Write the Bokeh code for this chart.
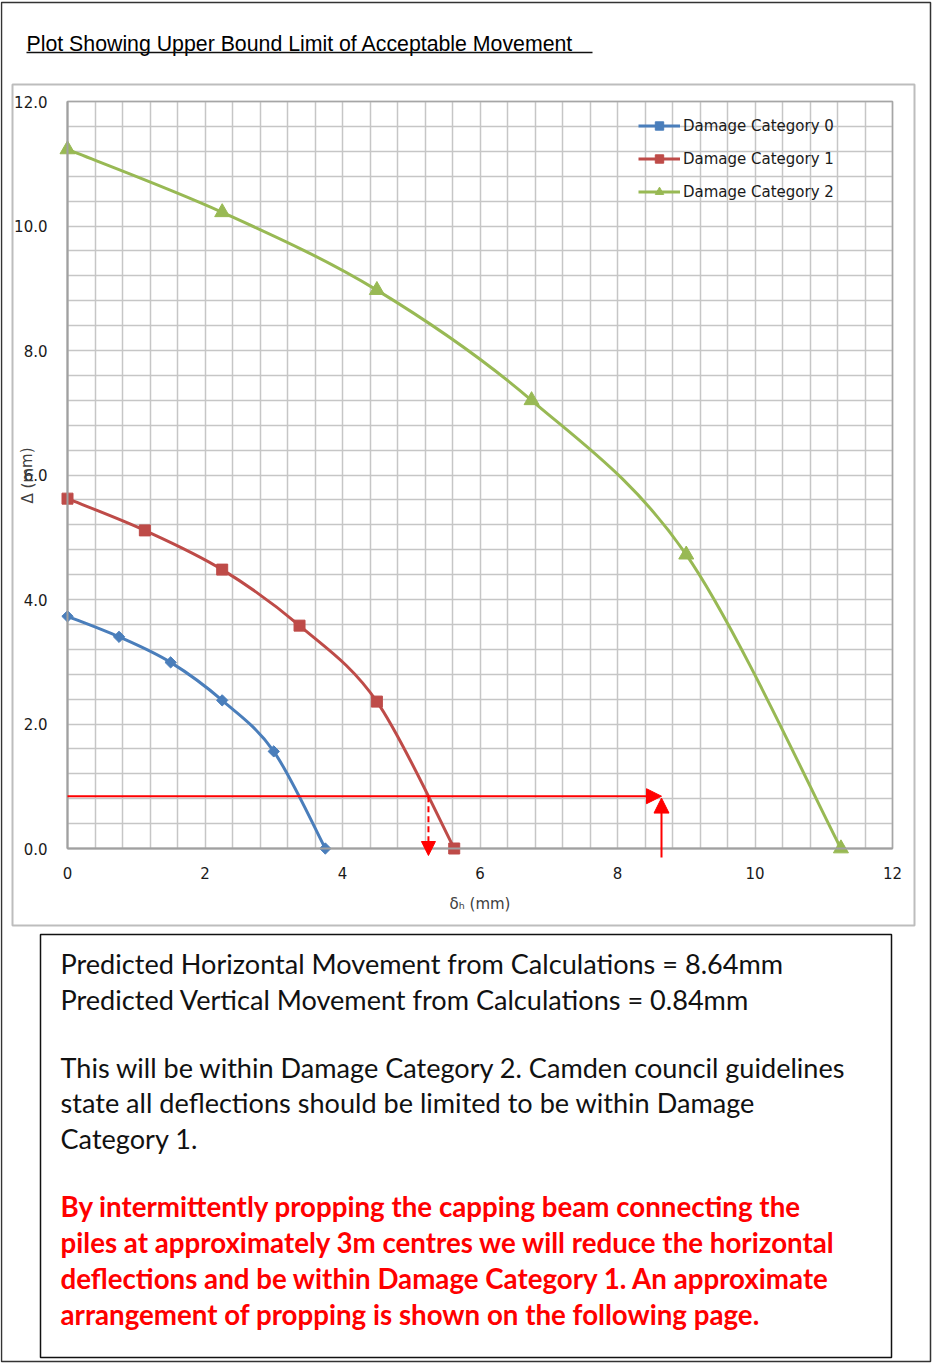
from bokeh.plotting import figure
from bokeh.models import (Range1d, SingleIntervalTicker, FixedTicker, NumeralTickFormatter,
                          Label, BoxAnnotation, Arrow, NormalHead, Legend, LegendItem)
from bokeh.embed import file_html
from bokeh.resources import INLINE

# ---------------- data ----------------
series_names = ["Damage Category 0", "Damage Category 1", "Damage Category 2"]
cat0_x = [0.0, 0.75, 1.5, 2.25, 3.0, 3.75]
cat0_y = [3.73, 3.40, 2.99, 2.38, 1.56, 0.0]
cat1_x = [0.0, 1.125, 2.25, 3.375, 4.5, 5.625]
cat1_y = [5.62, 5.11, 4.48, 3.58, 2.36, 0.0]
cat2_x = [0.0, 2.25, 4.5, 6.75, 9.0, 11.25]
cat2_y = [11.23, 10.22, 8.97, 7.20, 4.72, 0.0]

x_ticks = [0, 2, 4, 6, 8, 10, 12]
y_ticks = [0, 2, 4, 6, 8, 10, 12]

predicted_h = 8.64      # mm
predicted_v = 0.84      # mm
cat1_reading = 5.25     # where the predicted vertical meets category 1

title_text = "Plot Showing Upper Bound Limit of Acceptable Movement"
x_label = "\u03b4\u2095 (mm)"
y_label = "\u0394 (mm)"
black_lines = [
    "Predicted Horizontal Movement from Calculations = 8.64mm",
    "Predicted Vertical Movement from Calculations = 0.84mm",
    "This will be within Damage Category 2. Camden council guidelines",
    "state all deflections should be limited to be within Damage",
    "Category 1.",
]
red_lines = [
    "By intermittently propping the capping beam connecting the",
    "piles at approximately 3m centres we will reduce the horizontal",
    "deflections and be within Damage Category 1. An approximate",
    "arrangement of propping is shown on the following page.",
]

# ---------------- layout helpers (page pixel -> data) ----------------
W, H = 932, 1363
FL, FR, FT, FB = 67, 892, 101, 848          # plot area on the page
XMAX, YMAX = 12.0, 12.0
def dx(px):
    return (px - FL) / ((FR - FL) / XMAX)
def dy(py):
    return (FB - py) / ((FB - FT) / YMAX)

# the frame covers the whole page; axes are pinned at 0 with fixed_location
p = figure(width=W, height=H, x_range=Range1d(dx(0), dx(W)), y_range=Range1d(dy(H), dy(0)),
           output_backend="svg", toolbar_location=None,
           min_border_left=0, min_border_right=0, min_border_top=0, min_border_bottom=0)
p.background_fill_color = "white"
p.border_fill_color = "white"
p.outline_line_color = None

# grids (only within the plot area)
for g in (p.xgrid, p.ygrid):
    g.ticker = SingleIntervalTicker(interval=0.4, num_minor_ticks=0)
    g.bounds = (0, 12)
    g.cross_bounds = (0, 12)
    g.grid_line_color = "#c6c6c6"
    g.grid_line_width = 1.5

def frame_box(left, right, top, bottom, color, width, level="annotation"):
    return BoxAnnotation(left=left, right=right, top=top, bottom=bottom,
                         fill_alpha=0, line_color=color, line_alpha=1.0,
                         line_width=width, level=level)

# plot-area outline
p.add_layout(frame_box(0, XMAX, YMAX, 0, "#a6a6a6", 1.5, level="underlay"))

# axes
p.xaxis.fixed_location = 0
p.yaxis.fixed_location = 0
p.xaxis.ticker = FixedTicker(ticks=x_ticks)
p.yaxis.ticker = FixedTicker(ticks=y_ticks)
p.yaxis.formatter = NumeralTickFormatter(format="0.0")
for ax in (p.xaxis[0], p.yaxis[0]):
    ax.bounds = (0, 12)
    ax.major_tick_line_color = None
    ax.minor_tick_line_color = None
    ax.axis_line_color = "#a0a0a0"
    ax.axis_line_width = 2
    ax.major_label_text_font = "DejaVu Sans"
    ax.major_label_text_font_size = "15px"
    ax.major_label_text_color = "#1a1a1a"
p.xaxis.major_label_standoff = 12
p.yaxis.major_label_standoff = 14
p.xaxis.axis_label = x_label
p.xaxis.axis_label_text_font = "DejaVu Sans"
p.xaxis.axis_label_text_font_size = "15px"
p.xaxis.axis_label_text_font_style = "normal"
p.xaxis.axis_label_text_color = "#404040"
p.xaxis.axis_label_standoff = 13

# ---------------- series ----------------
colors = ["#4A7EBB", "#BE4B48", "#98B954"]
markers = [("square", 8, 0.785398), ("square", 11, 0.0), ("triangle", 15, 0.0)]

def smooth(xs, ys, t=1.0 / 6.0):
    n = len(xs)
    out = {k: [] for k in ("x0", "y0", "x1", "y1", "cx0", "cy0", "cx1", "cy1")}
    for i in range(n - 1):
        ip, inx, inn = max(i - 1, 0), i + 1, min(i + 2, n - 1)
        out["x0"].append(xs[i]); out["y0"].append(ys[i])
        out["x1"].append(xs[inx]); out["y1"].append(ys[inx])
        out["cx0"].append(xs[i] + (xs[inx] - xs[ip]) * t)
        out["cy0"].append(ys[i] + (ys[inx] - ys[ip]) * t)
        out["cx1"].append(xs[inx] - (xs[inn] - xs[i]) * t)
        out["cy1"].append(ys[inx] - (ys[inn] - ys[i]) * t)
    return out

items = []
for name, xs, ys, col, (mk, sz, ang) in zip(series_names, [cat0_x, cat1_x, cat2_x],
                                            [cat0_y, cat1_y, cat2_y], colors, markers):
    s = smooth(xs, ys)
    r_line = p.bezier(line_color=col, line_width=3, **s)
    r_pts = p.scatter(xs, ys, marker=mk, size=sz, angle=ang,
                      fill_color=col, line_color=col)
    items.append(LegendItem(label=name, renderers=[r_line, r_pts]))

legend = Legend(items=items, location=(638, H - 202), padding=0, margin=0,
                glyph_width=42, glyph_height=21, label_height=21, spacing=12,
                label_standoff=3, label_text_font="DejaVu Sans",
                label_text_font_size="15px", label_text_color="#1a1a1a",
                border_line_color=None, background_fill_alpha=0)
p.add_layout(legend)

# ---------------- red reading arrows ----------------
p.add_layout(Arrow(x_start=0, y_start=predicted_v, x_end=predicted_h, y_end=predicted_v,
                   line_color="red", line_width=2,
                   end=NormalHead(size=15, fill_color="red", line_color="red")))
p.add_layout(Arrow(x_start=predicted_h, y_start=dy(857), x_end=predicted_h, y_end=predicted_v - 0.03,
                   line_color="red", line_width=2,
                   end=NormalHead(size=15, fill_color="red", line_color="red")))
p.add_layout(Arrow(x_start=cat1_reading, y_start=predicted_v, x_end=cat1_reading, y_end=dy(855),
                   line_color="red", line_width=2, line_dash="6 4",
                   end=NormalHead(size=14, fill_color="red", line_color="red", line_dash="solid")))

# ---------------- y axis label (Excel-style overlap) ----------------
p.add_layout(Label(x=dx(27), y=dy(475), text=y_label, angle=1.5708,
                   text_align="center", text_baseline="middle",
                   text_font="DejaVu Sans", text_font_size="15px", text_color="#404040"))

# ---------------- frames ----------------
p.add_layout(frame_box(dx(1), dx(930), dy(2), dy(1361), "#333333", 1.5))
p.add_layout(frame_box(dx(12), dx(914), dy(84), dy(925), "#bdbdbd", 2))
p.add_layout(frame_box(dx(40), dx(891), dy(934), dy(1357), "#111111", 1.5))

# ---------------- title ----------------
p.add_layout(Label(x=dx(26), y=dy(43), text=title_text, text_baseline="middle",
                   text_font="Liberation Sans", text_font_size="21.3px", text_color="#000000"))
p.add_layout(Arrow(x_start=dx(26), y_start=dy(52), x_end=dx(592), y_end=dy(52),
                   line_color="#111111", line_width=1.5, end=None))

# ---------------- text box ----------------
black_y = [963, 999, 1067, 1102, 1138]
for yy, line in zip(black_y, black_lines):
    p.add_layout(Label(x=dx(60), y=dy(yy), text=line,
                       text_baseline="middle", text_font="Lato",
                       text_font_size="27.1px", text_color="#111111"))
red_y = [1206, 1242, 1278, 1314]
for yy, line in zip(red_y, red_lines):
    p.add_layout(Label(x=dx(60), y=dy(yy), text=line,
                       text_baseline="middle", text_font="Lato",
                       text_font_style="bold", text_font_size="27.7px", text_color="#ff0000"))

open("out.html", "w").write(file_html(p, INLINE))
